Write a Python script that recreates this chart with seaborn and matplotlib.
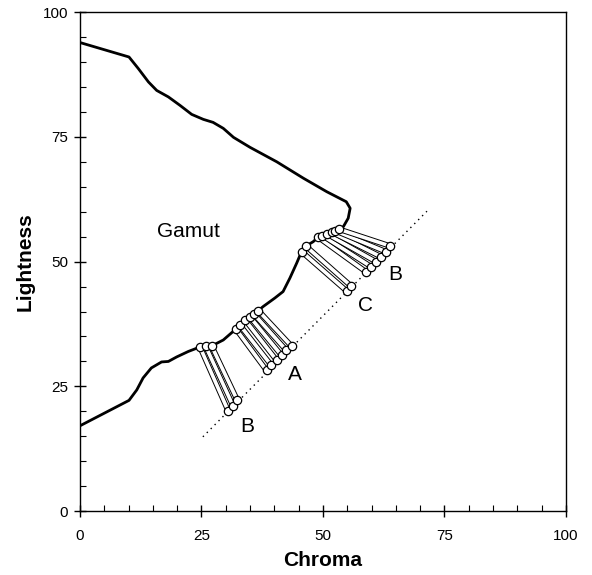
import matplotlib
matplotlib.use("Agg")
import matplotlib.pyplot as plt
from matplotlib.ticker import MultipleLocator
import seaborn as sns
import pandas as pd

# gamut boundary (chroma, lightness)
gamut_c = [0, 10.1, 12.0, 14.1, 15.8, 18.2, 20.6, 23.0, 25.4, 27.4, 29.5, 31.6,
           35.0, 40.5, 46.0, 50.8, 54.8, 55.6, 55.2, 54.2, 53.3, 52.5, 51.8,
           50.9, 49.9, 49.0, 48.0, 46.5, 45.6, 44.6, 43.2, 41.8, 40.1, 37.7,
           36.7, 35.8, 35.0, 34.0, 32.9, 32.1, 29.5, 27.1, 25.9, 24.7, 22.3,
           19.9, 18.2, 16.8, 14.7, 13.0, 11.7, 10.1, 0]
gamut_l = [93.9, 91.0, 88.7, 86.0, 84.3, 83.0, 81.3, 79.5, 78.5, 77.9, 76.7, 74.9,
           72.9, 70.0, 66.7, 64.0, 62.0, 60.7, 58.7, 57.0, 56.5, 56.2, 55.9,
           55.5, 55.2, 54.9, 54.0, 53.1, 52.0, 49.7, 46.7, 44.0, 42.7, 41.0,
           40.2, 39.5, 38.9, 38.3, 37.3, 36.5, 34.3, 33.1, 33.0, 32.9, 32.0,
           30.9, 30.0, 29.9, 28.7, 26.7, 24.3, 22.2, 17.1]

# mapped colours: boundary end and target end of each connector
upper_c = [24.7, 25.9, 27.1, 32.1, 32.9, 34.0, 35.0, 35.8, 36.7, 45.6, 46.5,
           49.0, 49.9, 50.9, 51.8, 52.5, 53.3]
upper_l = [32.9, 33.0, 33.1, 36.5, 37.3, 38.3, 38.9, 39.5, 40.2, 52.0, 53.1,
           54.9, 55.2, 55.5, 55.9, 56.2, 56.5]
lower_c = [30.5, 31.5, 32.4, 38.4, 39.4, 40.5, 41.5, 42.5, 43.6, 54.9, 55.8,
           58.8, 59.9, 60.9, 61.9, 62.9, 63.9]
lower_l = [20.1, 21.1, 22.2, 28.2, 29.2, 30.2, 31.2, 32.2, 33.0, 44.1, 45.1,
           48.0, 49.0, 50.0, 51.0, 52.0, 53.1]

# dotted reference line
ref_c = [25.3, 71.4]
ref_l = [14.9, 60.1]

labels = ["Gamut", "A", "B", "C", "B"]
label_c = [22.4, 44.3, 34.4, 58.8, 64.8]
label_l = [56.0, 27.3, 16.9, 41.3, 47.5]

sns.set_style("white")
plt.rcParams["font.family"] = ["Liberation Sans", "DejaVu Sans"]
plt.rcParams["text.color"] = "black"
plt.rcParams["axes.labelcolor"] = "black"
plt.rcParams["xtick.color"] = "black"
plt.rcParams["ytick.color"] = "black"

fig = plt.figure(figsize=(5.92, 5.75), dpi=100)
ax = fig.add_axes([0.135, 0.111, 0.821, 0.868])

gamut = pd.DataFrame({"c": gamut_c, "l": gamut_l})
sns.lineplot(data=gamut, x="c", y="l", sort=False, estimator=None,
             color="black", lw=2.0, ax=ax)

ref = pd.DataFrame({"c": ref_c, "l": ref_l})
sns.lineplot(data=ref, x="c", y="l", sort=False, estimator=None, color="black",
             lw=1.0, linestyle=(0, (1, 3)), ax=ax)

# connectors drawn as outlined strips
for i in range(len(upper_c)):
    seg = pd.DataFrame({"c": [upper_c[i], lower_c[i]], "l": [upper_l[i], lower_l[i]]})
    sns.lineplot(data=seg, x="c", y="l", sort=False, estimator=None,
                 color="black", lw=4.0, solid_capstyle="butt", ax=ax)
    sns.lineplot(data=seg, x="c", y="l", sort=False, estimator=None,
                 color="white", lw=2.6, solid_capstyle="butt", ax=ax)

ends = pd.DataFrame({"c": upper_c + lower_c, "l": upper_l + lower_l})
sns.scatterplot(data=ends, x="c", y="l", s=36, color="white", edgecolor="black",
                linewidth=0.9, zorder=5, ax=ax)

for t, c, l in zip(labels, label_c, label_l):
    ax.text(c, l, t, fontsize=15, ha="center", va="center")

ax.set_xlim(0, 100)
ax.set_ylim(0, 100)
ax.xaxis.set_major_locator(MultipleLocator(25))
ax.yaxis.set_major_locator(MultipleLocator(25))
ax.xaxis.set_minor_locator(MultipleLocator(5))
ax.yaxis.set_minor_locator(MultipleLocator(5))
ax.tick_params(which="major", direction="inout", length=9, width=1,
               labelsize=11, bottom=True, left=True)
ax.tick_params(which="minor", direction="in", length=4, width=0.8,
               bottom=True, left=True)
ax.tick_params(axis="x", pad=8)
ax.tick_params(axis="y", pad=4)

for s in ax.spines.values():
    s.set_color("black")
    s.set_linewidth(1.0)

ax.set_xlabel("Chroma", fontsize=15, fontweight="bold", labelpad=6)
ax.set_ylabel("Lightness", fontsize=15, fontweight="bold", labelpad=6)

fig.savefig("out.png", dpi=100)
